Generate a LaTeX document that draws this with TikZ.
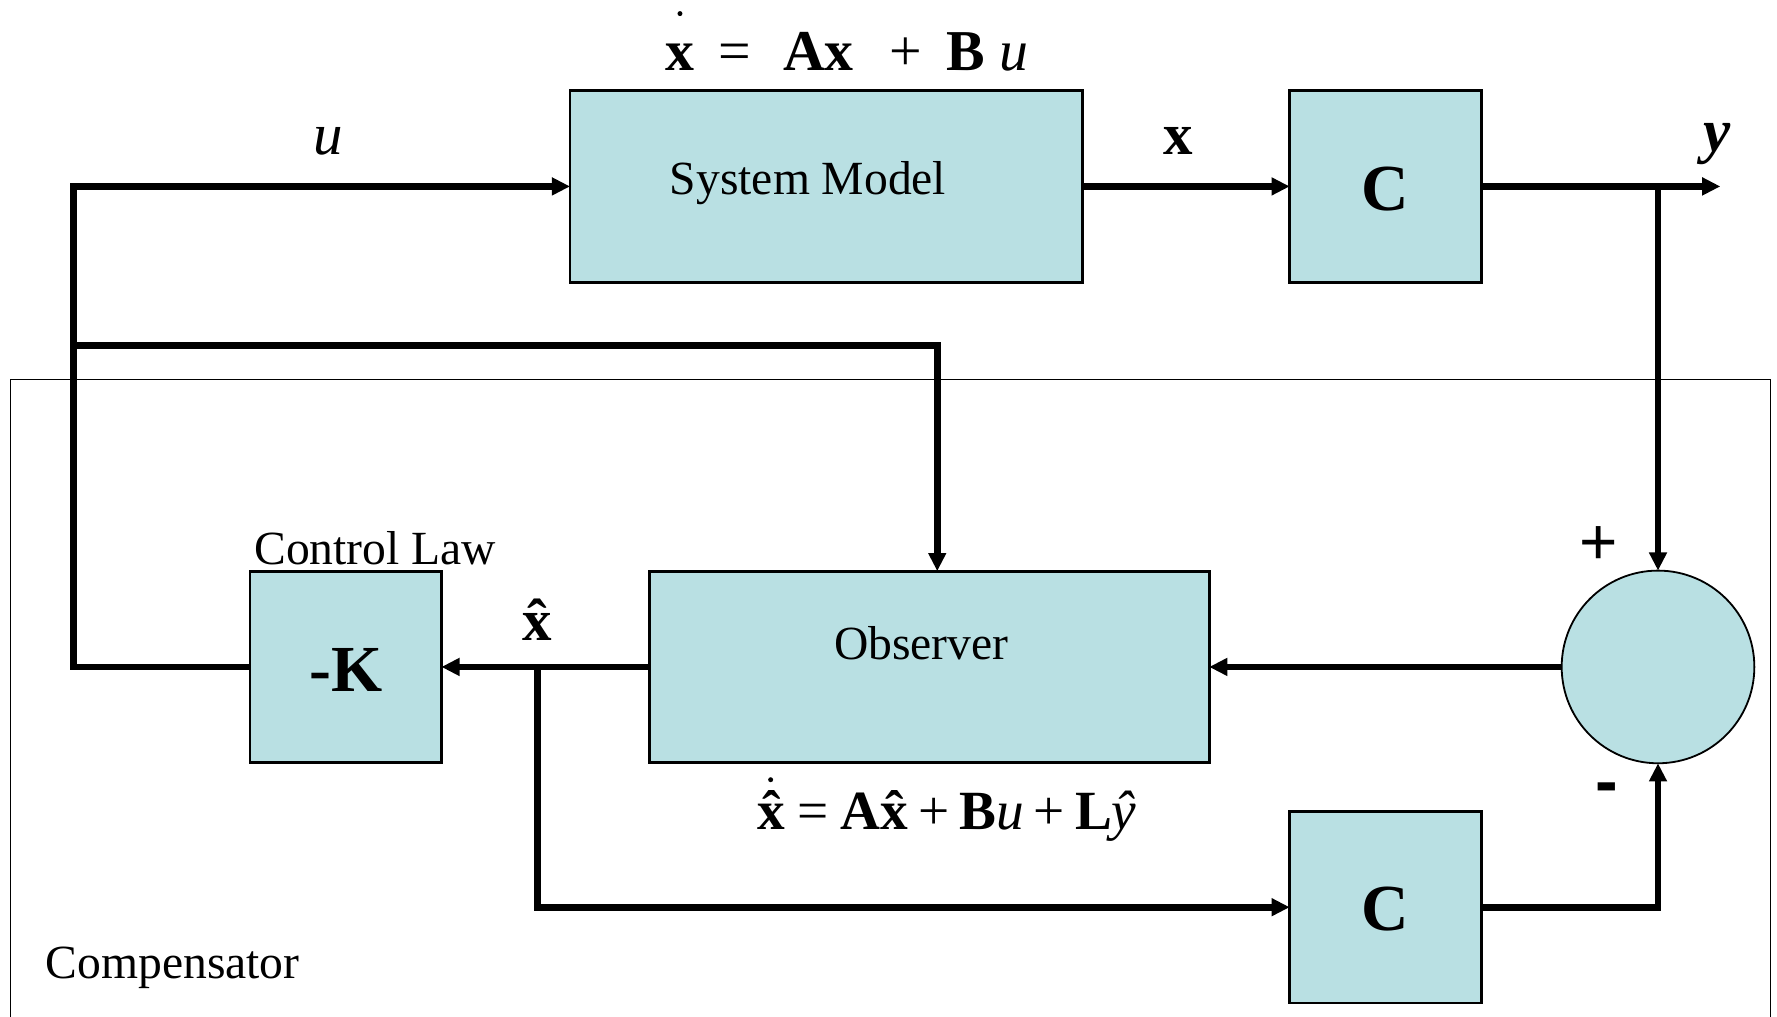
\documentclass[tikz,border=0pt]{standalone}
\usepackage{fontspec}
\setmainfont{Liberation Serif}
\newfontfamily\sansf{Liberation Sans}
\usetikzlibrary{arrows.meta,shapes.geometric}
\definecolor{boxfill}{RGB}{185,224,227}
\newcommand\hatit[1]{\ooalign{#1\cr\hidewidth\char"02C6\hidewidth\cr}}
\tikzset{
  blk/.style={draw, line width=1.2pt, fill=boxfill, inner sep=0pt, outer sep=0pt},
  sqblk/.style={blk, minimum width=84.5pt, minimum height=84.5pt},
  wire/.style={line width=3pt},
  flow/.style={line width=3pt, -{Triangle[length=8pt,width=7.5pt]}},
  lbl/.style={inner sep=0pt, anchor=base},
  txt/.style={font=\fontsize{21pt}{21pt}\selectfont},
  big/.style={font=\fontsize{29pt}{29pt}\selectfont\bfseries},
  frameline/.style={line width=0.6pt},
}
\begin{document}
\begin{tikzpicture}[x=0.5pt,y=-0.5pt]
\useasboundingbox (0,0) rectangle (1568,897);
% compensator frame
\draw[frameline] (9,910) -- (9,335) -- (1562,335) -- (1562,910);
% blocks
\node[blk, minimum width=226pt, minimum height=84.5pt] (sys) at (729,164.5) {};
\node[sqblk] (c1) at (1222.5,164.5) {};
\node[sqblk] (k) at (305,588.5) {};
\node[blk, minimum width=247pt, minimum height=84.5pt] (obs) at (820,588.5) {};
\node[blk, circle, line width=0.8pt, minimum size=85pt] (sum) at (1463,588.5) {};
\node[sqblk] (c2) at (1222.5,800.5) {};
% block texts
\node[lbl, txt] (tsys) at (713,172) {System Model};
\node[lbl, txt] (tobs) at (813,582) {Observer};
\node[big] (tc1) at (1222.5,167) {C};
\node[big] (tk) at (305,591) {-K};
\node[big] (tc2) at (1222.5,802) {C};
% coordinates
\coordinate (L1) at (65,164.5);
\coordinate (L3) at (65,305);
\coordinate (T1) at (827,305);
\coordinate (J1) at (1463,164.5);
\coordinate (Y) at (1518,164.5);
\coordinate (J2) at (474,588.5);
% connectors
\draw[flow] (k.west) -| (L1) -- (sys.west);
\draw[flow] (L3) -- (T1) -- (T1 |- obs.north);
\draw[flow] (sys.east) -- (c1.west);
\draw[flow] (c1.east) -- (Y);
\draw[flow] (J1) -- (sum.north);
\draw[flow] (sum.west) -- (obs.east);
\draw[flow] (obs.west) -- (k.east);
\draw[flow] (J2) |- (c2.west);
\draw[flow] (c2.east) -| (sum.south);
% labels
\node[lbl, font=\fontsize{26pt}{26pt}\selectfont\itshape] (lu) at (290,136) {u};
\node[lbl, font=\fontsize{26pt}{26pt}\selectfont\bfseries] (lx) at (1040,136) {x};
\node[lbl, font=\fontsize{27pt}{27pt}\selectfont\bfseries\itshape] (ly) at (1515,134) {y};
\node[lbl, font=\fontsize{26pt}{26pt}\selectfont\bfseries] (lxh) at (474,565) {\hatit{x}};
\node[lbl, txt, anchor=base west] (lcl) at (224,498) {Control Law};
\node[lbl, txt, anchor=base west] (lcomp) at (40,863) {Compensator};
\node[lbl, font=\fontsize{29pt}{29pt}\selectfont\sansf] (lplus) at (1411,498) {+};
\node[lbl, font=\fontsize{30pt}{30pt}\selectfont\sansf\bfseries] (lminus) at (1418,710) {-};
% top equation
\node[lbl, anchor=base west, font=\fontsize{25.5pt}{25.5pt}\selectfont] (eq1) at (587,62)
  {\textbf{x}\hspace{0.42em}=\hspace{0.55em}\textbf{Ax}\hspace{0.62em}+\hspace{0.42em}\textbf{B}\hspace{0.25em}\textit{u}};
\fill (600,12) circle (1.1pt);
% observer equation
\node[lbl, anchor=base west, font=\fontsize{24.4pt}{24.4pt}\selectfont] (eq2) at (668,732)
  {\textbf{\hatit{x}}\hspace{0.22em}=\hspace{0.22em}\textbf{A\hatit{x}}\hspace{0.18em}+\hspace{0.18em}\textbf{B}\textit{u}\hspace{0.18em}+\hspace{0.18em}\textbf{L}\textit{\hatit{y}}};
\fill (680,688) circle (1.1pt);
\end{tikzpicture}
\end{document}
